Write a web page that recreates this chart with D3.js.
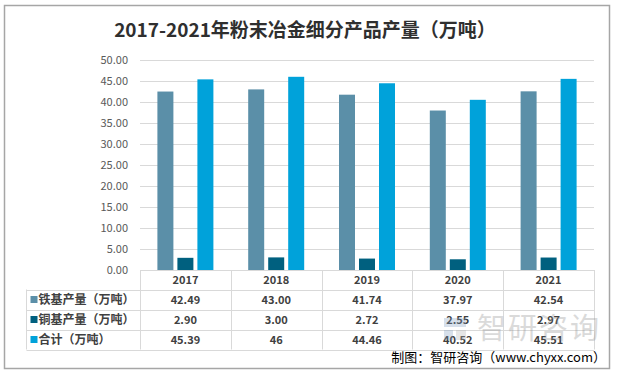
<!DOCTYPE html>
<html>
<head>
<meta charset="utf-8">
<script src="https://cdn.jsdelivr.net/npm/d3@7"></script>
<style>
  body { margin: 0; background: #fff; }
  text { font-family: "Noto Sans CJK SC", "Noto Sans", sans-serif; }
</style>
</head>
<body>
<div id="viz"></div>
<script>
var years = ["2017", "2018", "2019", "2020", "2021"];
var ironValues = [42.49, 43.00, 41.74, 37.97, 42.54];
var copperValues = [2.90, 3.00, 2.72, 2.55, 2.97];
var totalValues = [45.39, 46, 44.46, 40.52, 45.51];
var ironLabels = ["42.49", "43.00", "41.74", "37.97", "42.54"];
var copperLabels = ["2.90", "3.00", "2.72", "2.55", "2.97"];
var totalLabels = ["45.39", "46", "44.46", "40.52", "45.51"];
var seriesNames = ["铁基产量（万吨）", "铜基产量（万吨）", "合计（万吨）"];
var yTicks = [0, 5, 10, 15, 20, 25, 30, 35, 40, 45, 50];

var colors = ["#5b8fa8", "#00607f", "#00a2da"];
var series = [ironValues, copperValues, totalValues];
var labels = [ironLabels, copperLabels, totalLabels];

var W = 618, H = 377;
var pLeft = 140, pRight = 594, pTop = 60, pBottom = 270;
var rowH = 20, headerH = 19.5, legendX = 26.5;

var svg = d3.select("#viz").append("svg")
  .attr("width", W).attr("height", H);

// outer frame
svg.append("rect")
  .attr("x", 4.5).attr("y", 5.5)
  .attr("width", 605).attr("height", 363)
  .attr("fill", "#fff")
  .attr("stroke", "#a6a6a6")
  .attr("stroke-width", 1.5);

// title
svg.append("text")
  .attr("x", 305).attr("y", 37)
  .attr("text-anchor", "middle")
  .attr("font-size", 19).attr("font-weight", "bold")
  .attr("fill", "#2f2f2f")
  .text("2017-2021年粉末冶金细分产品产量（万吨）");

var x = d3.scaleBand().domain(years).range([pLeft, pRight]);
var xInner = d3.scaleBand().domain([0, 1, 2])
  .range([17.4, x.bandwidth() - 17.4]).paddingInner(0.2);
var y = d3.scaleLinear().domain([0, 50]).range([pBottom, pTop]);

// gridlines
svg.append("g").selectAll("line").data(yTicks).enter().append("line")
  .attr("x1", pLeft).attr("x2", pRight)
  .attr("y1", d => Math.round(y(d)) + 0.5).attr("y2", d => Math.round(y(d)) + 0.5)
  .attr("stroke", "#d9d9d9").attr("stroke-width", 1);

// y axis labels
var yAxis = d3.axisLeft(y).tickValues(yTicks).tickFormat(d3.format(".2f"))
  .tickSize(0).tickPadding(12);
var gy = svg.append("g").attr("transform", "translate(" + pLeft + ",0)").call(yAxis);
gy.select(".domain").remove();
gy.selectAll("text")
  .attr("font-size", 11).attr("fill", "#595959")
  .style("font-family", "'Noto Sans CJK SC', sans-serif");

// bars
series.forEach(function (vals, si) {
  svg.append("g").selectAll("rect").data(vals).enter().append("rect")
    .attr("x", (d, i) => x(years[i]) + xInner(si))
    .attr("width", xInner.bandwidth())
    .attr("y", d => y(d))
    .attr("height", d => pBottom - y(d))
    .attr("fill", colors[si]);
});

// data table
var grid = "#d9d9d9";
var tableBottom = pBottom + headerH + rowH * 3;
var g = svg.append("g").attr("stroke", grid).attr("stroke-width", 1);
g.append("line").attr("x1", pLeft).attr("x2", pRight)
  .attr("y1", pBottom + 0.5).attr("y2", pBottom + 0.5);
[0, 1, 2, 3].forEach(function (r) {
  var yy = Math.round(pBottom + headerH + rowH * r) + 0.5;
  g.append("line").attr("x1", legendX).attr("x2", pRight)
    .attr("y1", yy).attr("y2", yy);
});
g.append("line").attr("x1", legendX).attr("x2", legendX)
  .attr("y1", pBottom + headerH).attr("y2", tableBottom);
years.forEach(function (yr) {
  var xx = Math.round(x(yr)) + 0.5;
  g.append("line").attr("x1", xx).attr("x2", xx)
    .attr("y1", pBottom).attr("y2", tableBottom);
});
g.append("line").attr("x1", pRight + 0.5).attr("x2", pRight + 0.5)
  .attr("y1", pBottom).attr("y2", tableBottom);

// header years
svg.append("g").selectAll("text").data(years).enter().append("text")
  .attr("x", d => x(d) + x.bandwidth() / 2)
  .attr("y", pBottom + 14)
  .attr("text-anchor", "middle")
  .attr("font-size", 11).attr("font-weight", "bold")
  .attr("fill", "#404040")
  .text(d => d);

// rows
labels.forEach(function (lab, si) {
  var cy = pBottom + headerH + rowH * si + rowH / 2;
  svg.append("rect")
    .attr("x", legendX + 4).attr("y", cy - 3.5)
    .attr("width", 7).attr("height", 7)
    .attr("fill", colors[si]);
  svg.append("text")
    .attr("x", legendX + 12).attr("y", cy + 4.5)
    .attr("font-size", 12).attr("font-weight", "bold")
    .attr("fill", "#404040")
    .text(seriesNames[si]);
  svg.append("g").selectAll("text").data(lab).enter().append("text")
    .attr("x", (d, i) => x(years[i]) + x.bandwidth() / 2)
    .attr("y", cy + 4)
    .attr("text-anchor", "middle")
    .attr("font-size", 11).attr("font-weight", "bold")
    .attr("fill", "#404040")
    .text(d => d);
});

// watermark
var wm = svg.append("g").attr("opacity", 0.3);
wm.append("rect").attr("x", 444).attr("y", 318).attr("width", 22).attr("height", 9).attr("fill", "#7d9bc0");
wm.append("rect").attr("x", 444).attr("y", 330).attr("width", 9).attr("height", 10).attr("fill", "#7d9bc0");
wm.append("rect").attr("x", 456).attr("y", 330).attr("width", 10).attr("height", 10).attr("fill", "#b0b0b0");
wm.append("text")
  .attr("x", 477).attr("y", 339)
  .attr("font-size", 29).attr("fill", "#888")
  .attr("letter-spacing", 2)
  .text("智研咨询");

// source
svg.append("text")
  .attr("x", 606).attr("y", 362)
  .attr("text-anchor", "end")
  .attr("font-size", 13).attr("fill", "#000")
  .text("制图：智研咨询（www.chyxx.com）");
</script>
</body>
</html>
